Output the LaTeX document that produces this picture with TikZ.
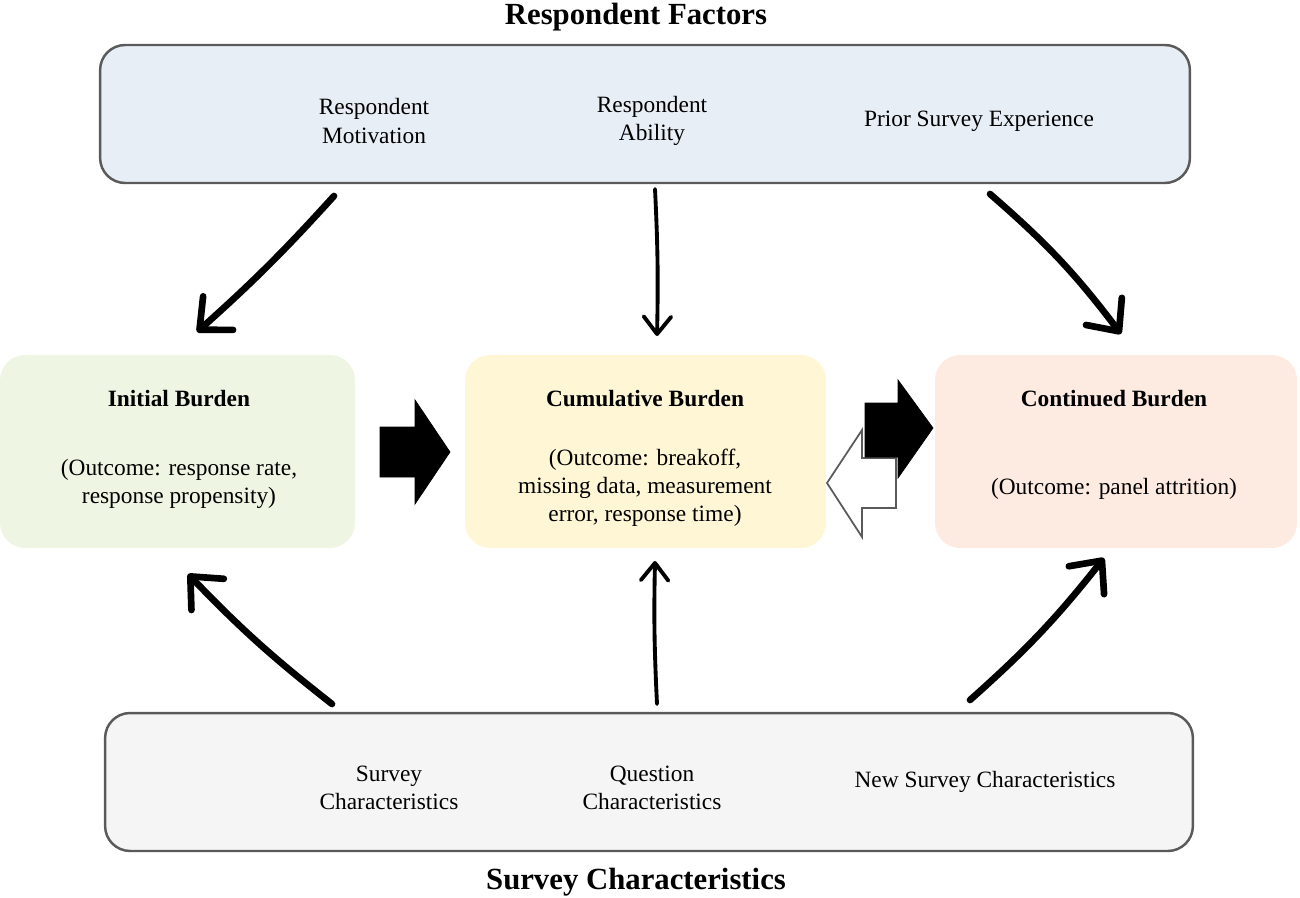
\documentclass[tikz,border=0pt]{standalone}
\usepackage{fontspec}
\setmainfont{Liberation Serif}
\usetikzlibrary{arrows.meta}
\definecolor{topfill}{HTML}{E8EEF5}
\definecolor{botfill}{HTML}{F5F5F5}
\definecolor{greenfill}{HTML}{EEF6E3}
\definecolor{yellowfill}{HTML}{FFF6D6}
\definecolor{peachfill}{HTML}{FDEAE0}
\definecolor{edgegray}{HTML}{5A5A5A}
\tikzset{
  bodytext/.style={font=\fontsize{13.3}{16}\selectfont, align=center, inner sep=0pt},
  headtext/.style={font=\bfseries\fontsize{13.3}{16}\selectfont, align=center, inner sep=0pt},
  titletext/.style={font=\bfseries\fontsize{17.5}{20}\selectfont, inner sep=0pt},
  bandbox/.style={draw=edgegray, line width=1.4pt, rounded corners=0.5cm, minimum width=21.8cm, minimum height=2.76cm, inner sep=0pt},
  burdenbox/.style={rounded corners=0.5cm, minimum width=7.2cm, minimum height=3.86cm, inner sep=0pt},
  thickarrow/.style={line width=3.8pt, line cap=round, -{Straight Barb[length=5mm, width=9mm, round]}},
  thinarrow/.style={line width=2.2pt, line cap=round, -{Straight Barb[length=3.5mm, width=5.5mm, round]}},
  blockblack/.style={fill=black, draw=black, line width=0.4pt},
  blockwhite/.style={fill=white, draw=edgegray, line width=1pt},
}
\begin{document}
\begin{tikzpicture}[x=0.02cm, y=-0.02cm]
\useasboundingbox (0,0) rectangle (1300,898);

% titles
\node[titletext] (ttop) at (636,17) {Respondent Factors};
\node[titletext] (tbot) at (636,882) {Survey Characteristics};

% top band
\node[bandbox, fill=topfill] (top) at (645,114) {};
\node[bodytext] (rm) at (374,121) {Respondent\\Motivation};
\node[bodytext] (ra) at (652,121) {Respondent\\Ability};
\node[bodytext] (ps) at (979,121) {Prior Survey Experience};

% bottom band
\node[bandbox, fill=botfill, minimum width=21.76cm] (bot) at (649,782) {};
\node[bodytext] (sc) at (389,788) {Survey\\Characteristics};
\node[bodytext] (qc) at (652,788) {Question\\Characteristics};
\node[bodytext] (ns) at (985,782) {New Survey Characteristics};

% burden boxes
\node[burdenbox, fill=greenfill, minimum width=7.1cm] (ib) at (177.5,451.5) {};
\node[burdenbox, fill=yellowfill, minimum width=7.22cm] (cb) at (645.5,451.5) {};
\node[burdenbox, fill=peachfill, minimum width=7.24cm] (kb) at (1116,451.5) {};

\node[headtext] (ibh) at (179,399) {Initial Burden};
\node[bodytext] (ibt) at (179,484) {(Outcome: response rate,\\response propensity)};
\node[headtext] (cbh) at (645,399) {Cumulative Burden};
\node[bodytext] (cbt) at (645,488) {(Outcome: breakoff,\\missing data, measurement\\error, response time)};
\node[headtext] (kbh) at (1114,399) {Continued Burden};
\node[bodytext] (kbt) at (1114,489) {(Outcome: panel attrition)};

% block arrows
\draw[blockblack] (380,427) -- (415,427) -- (415,400) -- (450,452) -- (415,504) -- (415,477) -- (380,477) -- cycle;
\draw[blockwhite] (896,508) -- (862,508) -- (862,537) -- (827,483) -- (862,430) -- (862,458) -- (896,458) -- cycle;
\draw[blockblack] (865,403) -- (898,403) -- (898,380) -- (933,428) -- (898,478) -- (898,457) -- (865,457) -- cycle;

% connector endpoints
\coordinate (a1s) at (334,196);
\coordinate (a1e) at (197,332);
\coordinate (a2s) at (655,189);
\coordinate (a2e) at (657,336);
\coordinate (a3s) at (990,194);
\coordinate (a3e) at (1121,334);
\coordinate (a4s) at (332,704);
\coordinate (a4e) at (188,574);
\coordinate (a5s) at (657,704);
\coordinate (a5e) at (655,561);
\coordinate (a6s) at (970,700);
\coordinate (a6e) at (1104,558);

\draw[thickarrow] (a1s) to[bend left=3] (a1e);
\draw[thinarrow] (a2s) to[bend left=2] (a2e);
\draw[thickarrow] (a3s) to[bend left=6] (a3e);
\draw[thickarrow] (a4s) to[bend left=4] (a4e);
\draw[thinarrow] (a5s) to[bend left=2] (a5e);
\draw[thickarrow] (a6s) to[bend right=5] (a6e);
\end{tikzpicture}
\end{document}
